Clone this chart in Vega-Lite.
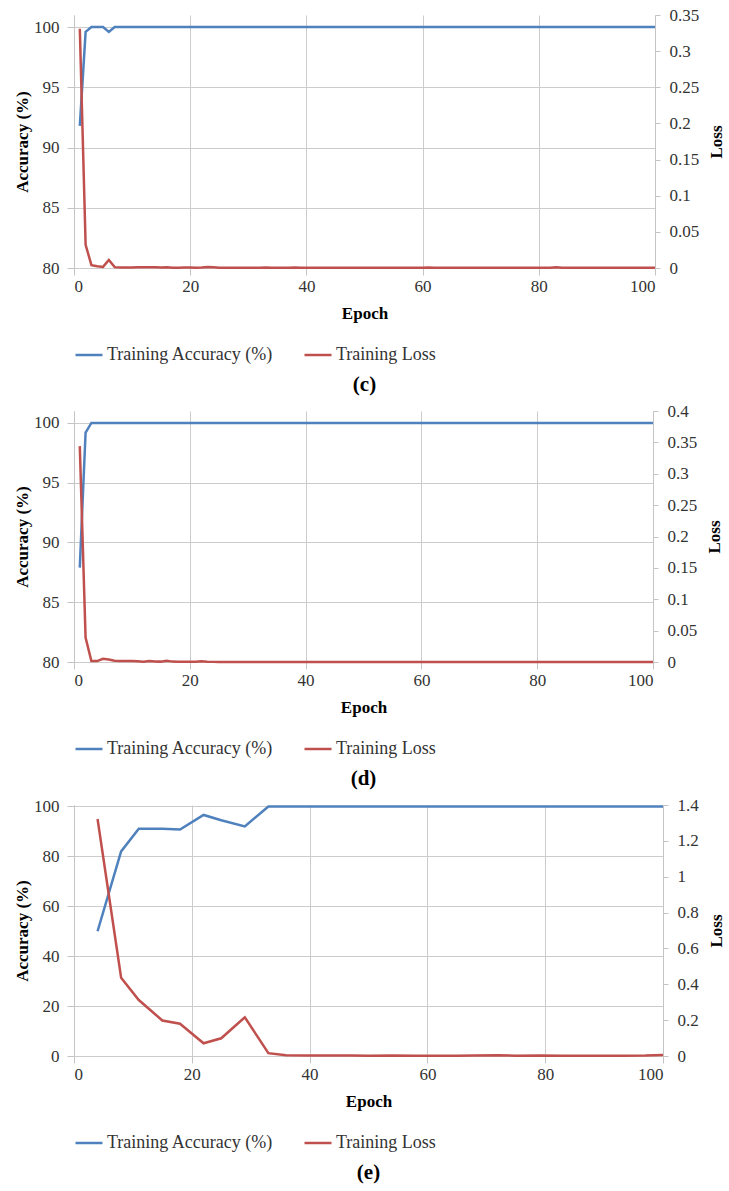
{
  "$schema": "https://vega.github.io/schema/vega-lite/v6.json",
  "padding": {"top": 6, "left": 13, "right": 0, "bottom": 5},
  "spacing": 7,
  "resolve": {"scale": {"color": "independent"}, "legend": {"color": "independent"}},
  "config": {
    "font": "Liberation Serif",
    "view": {"stroke": null},
    "axis": {
      "labelFont": "Liberation Serif",
      "labelFontSize": 17,
      "labelColor": "#333333",
      "titleFont": "Liberation Serif",
      "titleFontSize": 17,
      "titleFontWeight": "bold",
      "titleColor": "#000000",
      "gridColor": "#cccccc",
      "gridWidth": 1,
      "domainColor": "#c4c4c4",
      "tickColor": "#c4c4c4",
      "tickSize": 7
    },
    "legend": {
      "labelFont": "Liberation Serif",
      "labelFontSize": 18,
      "labelColor": "#333333",
      "labelLimit": 0,
      "symbolType": "stroke",
      "symbolStrokeWidth": 3,
      "symbolSize": 729,
      "labelOffset": 3,
      "columnPadding": 25,
      "offset": 19
    },
    "title": {"font": "Liberation Serif", "fontSize": 21, "fontWeight": "bold", "color": "#000000"},
    "line": {"strokeWidth": 2.5}
  },
  "datasets": {
    "c": [
      {"epoch": 1, "acc": 91.8, "loss": 0.331},
      {"epoch": 2, "acc": 99.6, "loss": 0.032},
      {"epoch": 3, "acc": 100, "loss": 0.004},
      {"epoch": 4, "acc": 100, "loss": 0.0025},
      {"epoch": 5, "acc": 100, "loss": 0.0015},
      {"epoch": 6, "acc": 99.6, "loss": 0.011},
      {"epoch": 7, "acc": 100, "loss": 0.0012},
      {"epoch": 8, "acc": 100, "loss": 0.0008},
      {"epoch": 9, "acc": 100, "loss": 0.0006},
      {"epoch": 10, "acc": 100, "loss": 0.0008},
      {"epoch": 11, "acc": 100, "loss": 0.001},
      {"epoch": 12, "acc": 100, "loss": 0.0012},
      {"epoch": 13, "acc": 100, "loss": 0.0012},
      {"epoch": 14, "acc": 100, "loss": 0.0012},
      {"epoch": 15, "acc": 100, "loss": 0.0006},
      {"epoch": 16, "acc": 100, "loss": 0.001},
      {"epoch": 17, "acc": 100, "loss": 0.0005},
      {"epoch": 18, "acc": 100, "loss": 0.0004},
      {"epoch": 19, "acc": 100, "loss": 0.0006},
      {"epoch": 20, "acc": 100, "loss": 0.0008},
      {"epoch": 21, "acc": 100, "loss": 0.0005},
      {"epoch": 22, "acc": 100, "loss": 0.0006},
      {"epoch": 23, "acc": 100, "loss": 0.0014},
      {"epoch": 24, "acc": 100, "loss": 0.001},
      {"epoch": 25, "acc": 100, "loss": 0.0004},
      {"epoch": 26, "acc": 100, "loss": 0.0003},
      {"epoch": 27, "acc": 100, "loss": 0.0003},
      {"epoch": 28, "acc": 100, "loss": 0.0002},
      {"epoch": 29, "acc": 100, "loss": 0.0003},
      {"epoch": 30, "acc": 100, "loss": 0.0003},
      {"epoch": 31, "acc": 100, "loss": 0.0002},
      {"epoch": 32, "acc": 100, "loss": 0.0004},
      {"epoch": 33, "acc": 100, "loss": 0.0008},
      {"epoch": 34, "acc": 100, "loss": 0.0003},
      {"epoch": 35, "acc": 100, "loss": 0.0002},
      {"epoch": 36, "acc": 100, "loss": 0.0003},
      {"epoch": 37, "acc": 100, "loss": 0.0004},
      {"epoch": 38, "acc": 100, "loss": 0.0007},
      {"epoch": 39, "acc": 100, "loss": 0.0003},
      {"epoch": 40, "acc": 100, "loss": 0.0002},
      {"epoch": 41, "acc": 100, "loss": 0.0002},
      {"epoch": 42, "acc": 100, "loss": 0.0003},
      {"epoch": 43, "acc": 100, "loss": 0.0002},
      {"epoch": 44, "acc": 100, "loss": 0.0002},
      {"epoch": 45, "acc": 100, "loss": 0.0003},
      {"epoch": 46, "acc": 100, "loss": 0.0002},
      {"epoch": 47, "acc": 100, "loss": 0.0002},
      {"epoch": 48, "acc": 100, "loss": 0.0002},
      {"epoch": 49, "acc": 100, "loss": 0.0003},
      {"epoch": 50, "acc": 100, "loss": 0.0002},
      {"epoch": 51, "acc": 100, "loss": 0.0002},
      {"epoch": 52, "acc": 100, "loss": 0.0002},
      {"epoch": 53, "acc": 100, "loss": 0.0002},
      {"epoch": 54, "acc": 100, "loss": 0.0003},
      {"epoch": 55, "acc": 100, "loss": 0.0002},
      {"epoch": 56, "acc": 100, "loss": 0.0002},
      {"epoch": 57, "acc": 100, "loss": 0.0002},
      {"epoch": 58, "acc": 100, "loss": 0.0002},
      {"epoch": 59, "acc": 100, "loss": 0.0002},
      {"epoch": 60, "acc": 100, "loss": 0.0003},
      {"epoch": 61, "acc": 100, "loss": 0.0006},
      {"epoch": 62, "acc": 100, "loss": 0.0003},
      {"epoch": 63, "acc": 100, "loss": 0.0002},
      {"epoch": 64, "acc": 100, "loss": 0.0002},
      {"epoch": 65, "acc": 100, "loss": 0.0002},
      {"epoch": 66, "acc": 100, "loss": 0.0002},
      {"epoch": 67, "acc": 100, "loss": 0.0002},
      {"epoch": 68, "acc": 100, "loss": 0.0002},
      {"epoch": 69, "acc": 100, "loss": 0.0002},
      {"epoch": 70, "acc": 100, "loss": 0.0002},
      {"epoch": 71, "acc": 100, "loss": 0.0002},
      {"epoch": 72, "acc": 100, "loss": 0.0002},
      {"epoch": 73, "acc": 100, "loss": 0.0002},
      {"epoch": 74, "acc": 100, "loss": 0.0002},
      {"epoch": 75, "acc": 100, "loss": 0.0002},
      {"epoch": 76, "acc": 100, "loss": 0.0002},
      {"epoch": 77, "acc": 100, "loss": 0.0002},
      {"epoch": 78, "acc": 100, "loss": 0.0002},
      {"epoch": 79, "acc": 100, "loss": 0.0002},
      {"epoch": 80, "acc": 100, "loss": 0.0002},
      {"epoch": 81, "acc": 100, "loss": 0.0002},
      {"epoch": 82, "acc": 100, "loss": 0.0004},
      {"epoch": 83, "acc": 100, "loss": 0.0012},
      {"epoch": 84, "acc": 100, "loss": 0.0004},
      {"epoch": 85, "acc": 100, "loss": 0.0002},
      {"epoch": 86, "acc": 100, "loss": 0.0002},
      {"epoch": 87, "acc": 100, "loss": 0.0002},
      {"epoch": 88, "acc": 100, "loss": 0.0002},
      {"epoch": 89, "acc": 100, "loss": 0.0002},
      {"epoch": 90, "acc": 100, "loss": 0.0002},
      {"epoch": 91, "acc": 100, "loss": 0.0002},
      {"epoch": 92, "acc": 100, "loss": 0.0002},
      {"epoch": 93, "acc": 100, "loss": 0.0002},
      {"epoch": 94, "acc": 100, "loss": 0.0002},
      {"epoch": 95, "acc": 100, "loss": 0.0002},
      {"epoch": 96, "acc": 100, "loss": 0.0002},
      {"epoch": 97, "acc": 100, "loss": 0.0002},
      {"epoch": 98, "acc": 100, "loss": 0.0002},
      {"epoch": 99, "acc": 100, "loss": 0.0002},
      {"epoch": 100, "acc": 100, "loss": 0.0002}
    ],
    "d": [
      {"epoch": 1, "acc": 87.9, "loss": 0.344},
      {"epoch": 2, "acc": 99.2, "loss": 0.039},
      {"epoch": 3, "acc": 100, "loss": 0.0016},
      {"epoch": 4, "acc": 100, "loss": 0.0015},
      {"epoch": 5, "acc": 100, "loss": 0.005},
      {"epoch": 6, "acc": 100, "loss": 0.004},
      {"epoch": 7, "acc": 100, "loss": 0.002},
      {"epoch": 8, "acc": 100, "loss": 0.0015},
      {"epoch": 9, "acc": 100, "loss": 0.0015},
      {"epoch": 10, "acc": 100, "loss": 0.0015},
      {"epoch": 11, "acc": 100, "loss": 0.001},
      {"epoch": 12, "acc": 100, "loss": 0.0005},
      {"epoch": 13, "acc": 100, "loss": 0.0015},
      {"epoch": 14, "acc": 100, "loss": 0.0008},
      {"epoch": 15, "acc": 100, "loss": 0.0006},
      {"epoch": 16, "acc": 100, "loss": 0.002},
      {"epoch": 17, "acc": 100, "loss": 0.0006},
      {"epoch": 18, "acc": 100, "loss": 0.0003},
      {"epoch": 19, "acc": 100, "loss": 0.0003},
      {"epoch": 20, "acc": 100, "loss": 0.0003},
      {"epoch": 21, "acc": 100, "loss": 0.0004},
      {"epoch": 22, "acc": 100, "loss": 0.001},
      {"epoch": 23, "acc": 100, "loss": 0.0003},
      {"epoch": 24, "acc": 100, "loss": 0.0002},
      {"epoch": 25, "acc": 100, "loss": 0.0002},
      {"epoch": 26, "acc": 100, "loss": 0.0002},
      {"epoch": 27, "acc": 100, "loss": 0.0002},
      {"epoch": 28, "acc": 100, "loss": 0.0002},
      {"epoch": 29, "acc": 100, "loss": 0.0002},
      {"epoch": 30, "acc": 100, "loss": 0.0002},
      {"epoch": 31, "acc": 100, "loss": 0.0002},
      {"epoch": 32, "acc": 100, "loss": 0.0002},
      {"epoch": 33, "acc": 100, "loss": 0.0002},
      {"epoch": 34, "acc": 100, "loss": 0.0002},
      {"epoch": 35, "acc": 100, "loss": 0.0002},
      {"epoch": 36, "acc": 100, "loss": 0.0002},
      {"epoch": 37, "acc": 100, "loss": 0.0002},
      {"epoch": 38, "acc": 100, "loss": 0.0002},
      {"epoch": 39, "acc": 100, "loss": 0.0002},
      {"epoch": 40, "acc": 100, "loss": 0.0002},
      {"epoch": 41, "acc": 100, "loss": 0.0002},
      {"epoch": 42, "acc": 100, "loss": 0.0002},
      {"epoch": 43, "acc": 100, "loss": 0.0002},
      {"epoch": 44, "acc": 100, "loss": 0.0002},
      {"epoch": 45, "acc": 100, "loss": 0.0002},
      {"epoch": 46, "acc": 100, "loss": 0.0002},
      {"epoch": 47, "acc": 100, "loss": 0.0002},
      {"epoch": 48, "acc": 100, "loss": 0.0002},
      {"epoch": 49, "acc": 100, "loss": 0.0002},
      {"epoch": 50, "acc": 100, "loss": 0.0002},
      {"epoch": 51, "acc": 100, "loss": 0.0002},
      {"epoch": 52, "acc": 100, "loss": 0.0002},
      {"epoch": 53, "acc": 100, "loss": 0.0002},
      {"epoch": 54, "acc": 100, "loss": 0.0002},
      {"epoch": 55, "acc": 100, "loss": 0.0002},
      {"epoch": 56, "acc": 100, "loss": 0.0002},
      {"epoch": 57, "acc": 100, "loss": 0.0002},
      {"epoch": 58, "acc": 100, "loss": 0.0002},
      {"epoch": 59, "acc": 100, "loss": 0.0002},
      {"epoch": 60, "acc": 100, "loss": 0.0002},
      {"epoch": 61, "acc": 100, "loss": 0.0002},
      {"epoch": 62, "acc": 100, "loss": 0.0002},
      {"epoch": 63, "acc": 100, "loss": 0.0002},
      {"epoch": 64, "acc": 100, "loss": 0.0002},
      {"epoch": 65, "acc": 100, "loss": 0.0002},
      {"epoch": 66, "acc": 100, "loss": 0.0002},
      {"epoch": 67, "acc": 100, "loss": 0.0002},
      {"epoch": 68, "acc": 100, "loss": 0.0002},
      {"epoch": 69, "acc": 100, "loss": 0.0002},
      {"epoch": 70, "acc": 100, "loss": 0.0002},
      {"epoch": 71, "acc": 100, "loss": 0.0002},
      {"epoch": 72, "acc": 100, "loss": 0.0002},
      {"epoch": 73, "acc": 100, "loss": 0.0002},
      {"epoch": 74, "acc": 100, "loss": 0.0002},
      {"epoch": 75, "acc": 100, "loss": 0.0002},
      {"epoch": 76, "acc": 100, "loss": 0.0002},
      {"epoch": 77, "acc": 100, "loss": 0.0002},
      {"epoch": 78, "acc": 100, "loss": 0.0002},
      {"epoch": 79, "acc": 100, "loss": 0.0002},
      {"epoch": 80, "acc": 100, "loss": 0.0002},
      {"epoch": 81, "acc": 100, "loss": 0.0002},
      {"epoch": 82, "acc": 100, "loss": 0.0002},
      {"epoch": 83, "acc": 100, "loss": 0.0002},
      {"epoch": 84, "acc": 100, "loss": 0.0002},
      {"epoch": 85, "acc": 100, "loss": 0.0002},
      {"epoch": 86, "acc": 100, "loss": 0.0002},
      {"epoch": 87, "acc": 100, "loss": 0.0002},
      {"epoch": 88, "acc": 100, "loss": 0.0002},
      {"epoch": 89, "acc": 100, "loss": 0.0002},
      {"epoch": 90, "acc": 100, "loss": 0.0002},
      {"epoch": 91, "acc": 100, "loss": 0.0002},
      {"epoch": 92, "acc": 100, "loss": 0.0002},
      {"epoch": 93, "acc": 100, "loss": 0.0002},
      {"epoch": 94, "acc": 100, "loss": 0.0002},
      {"epoch": 95, "acc": 100, "loss": 0.0002},
      {"epoch": 96, "acc": 100, "loss": 0.0002},
      {"epoch": 97, "acc": 100, "loss": 0.0002},
      {"epoch": 98, "acc": 100, "loss": 0.0002},
      {"epoch": 99, "acc": 100, "loss": 0.0002},
      {"epoch": 100, "acc": 100, "loss": 0.0002}
    ],
    "e": [
      {"epoch": 4, "acc": 50, "loss": 1.322},
      {"epoch": 8, "acc": 82, "loss": 0.437},
      {"epoch": 11, "acc": 91.1, "loss": 0.312},
      {"epoch": 15, "acc": 91.1, "loss": 0.198},
      {"epoch": 18, "acc": 90.8, "loss": 0.18},
      {"epoch": 22, "acc": 96.6, "loss": 0.071},
      {"epoch": 25, "acc": 94.5, "loss": 0.099},
      {"epoch": 29, "acc": 92, "loss": 0.216},
      {"epoch": 33, "acc": 100, "loss": 0.016},
      {"epoch": 36, "acc": 100, "loss": 0.004},
      {"epoch": 40, "acc": 100, "loss": 0.003},
      {"epoch": 43, "acc": 100, "loss": 0.003},
      {"epoch": 47, "acc": 100, "loss": 0.003},
      {"epoch": 50, "acc": 100, "loss": 0.001},
      {"epoch": 54, "acc": 100, "loss": 0.003},
      {"epoch": 58, "acc": 100, "loss": 0.001},
      {"epoch": 61, "acc": 100, "loss": 0.002},
      {"epoch": 65, "acc": 100, "loss": 0.001},
      {"epoch": 68, "acc": 100, "loss": 0.003},
      {"epoch": 72, "acc": 100, "loss": 0.004},
      {"epoch": 75, "acc": 100, "loss": 0.002},
      {"epoch": 79, "acc": 100, "loss": 0.003},
      {"epoch": 83, "acc": 100, "loss": 0.001},
      {"epoch": 86, "acc": 100, "loss": 0.001},
      {"epoch": 90, "acc": 100, "loss": 0.001},
      {"epoch": 93, "acc": 100, "loss": 0.002},
      {"epoch": 97, "acc": 100, "loss": 0.003},
      {"epoch": 100, "acc": 100, "loss": 0.006}
    ]
  },
  "vconcat": [
    {
      "data": {"name": "c"},
      "width": 581,
      "height": 253,
      "title": {"text": "(c)", "orient": "bottom", "anchor": "middle", "offset": 10},
      "layer": [
        {
          "mark": {"type": "line"},
          "encoding": {
            "x": {"field": "epoch", "type": "quantitative", "scale": {"domain": [0, 100], "nice": false},
              "axis": {"values": [0, 20, 40, 60, 80, 100], "title": "Epoch", "grid": true, "labelFont": "Liberation Serif", "labelPadding": 3, "titlePadding": 11, "domain": false}},
            "y": {"field": "acc", "type": "quantitative", "scale": {"domain": [80, 101], "nice": false, "zero": false},
              "axis": {"values": [80, 85, 90, 95, 100], "title": "Accuracy (%)", "grid": true, "labelFont": "Liberation Serif", "labelPadding": 8, "titlePadding": 2}},
            "color": {"datum": "Training Accuracy (%)", "type": "nominal",
              "scale": {"domain": ["Training Accuracy (%)", "Training Loss"], "range": ["#4F81BD", "#C0504D"]},
              "legend": {"title": null, "orient": "bottom", "direction": "horizontal"}}
          }
        },
        {
          "mark": {"type": "line"},
          "encoding": {
            "x": {"field": "epoch", "type": "quantitative"},
            "y": {"field": "loss", "type": "quantitative", "scale": {"domain": [0, 0.35], "nice": false},
              "axis": {"orient": "right", "values": [0, 0.05, 0.1, 0.15, 0.2, 0.25, 0.3, 0.35], "format": "~g", "title": "Loss", "titleAngle": 270, "titleBaseline": "top", "grid": false, "tickSize": 5, "labelFont": "Liberation Serif", "labelPadding": 9, "titlePadding": 10}},
            "color": {"datum": "Training Loss", "type": "nominal"}
          }
        }
      ],
      "resolve": {"scale": {"y": "independent"}}
    },
    {
      "data": {"name": "d"},
      "width": 579,
      "height": 251,
      "title": {"text": "(d)", "orient": "bottom", "anchor": "middle", "offset": 10},
      "layer": [
        {
          "mark": {"type": "line"},
          "encoding": {
            "x": {"field": "epoch", "type": "quantitative", "scale": {"domain": [0, 100], "nice": false},
              "axis": {"values": [0, 20, 40, 60, 80, 100], "title": "Epoch", "grid": true, "labelFont": "Liberation Serif", "labelPadding": 3, "titlePadding": 11, "domain": false}},
            "y": {"field": "acc", "type": "quantitative", "scale": {"domain": [80, 101], "nice": false, "zero": false},
              "axis": {"values": [80, 85, 90, 95, 100], "title": "Accuracy (%)", "grid": true, "labelFont": "Liberation Serif", "labelPadding": 8, "titlePadding": 2}},
            "color": {"datum": "Training Accuracy (%)", "type": "nominal",
              "scale": {"domain": ["Training Accuracy (%)", "Training Loss"], "range": ["#4F81BD", "#C0504D"]},
              "legend": {"title": null, "orient": "bottom", "direction": "horizontal"}}
          }
        },
        {
          "mark": {"type": "line"},
          "encoding": {
            "x": {"field": "epoch", "type": "quantitative"},
            "y": {"field": "loss", "type": "quantitative", "scale": {"domain": [0, 0.4], "nice": false},
              "axis": {"orient": "right", "values": [0, 0.05, 0.1, 0.15, 0.2, 0.25, 0.3, 0.35, 0.4], "format": "~g", "title": "Loss", "titleAngle": 270, "titleBaseline": "top", "grid": false, "tickSize": 5, "labelFont": "Liberation Serif", "labelPadding": 9, "titlePadding": 10}},
            "color": {"datum": "Training Loss", "type": "nominal"}
          }
        }
      ],
      "resolve": {"scale": {"y": "independent"}}
    },
    {
      "data": {"name": "e"},
      "width": 589,
      "height": 251,
      "title": {"text": "(e)", "orient": "bottom", "anchor": "middle", "offset": 10},
      "layer": [
        {
          "mark": {"type": "line"},
          "encoding": {
            "x": {"field": "epoch", "type": "quantitative", "scale": {"domain": [0, 100], "nice": false},
              "axis": {"values": [0, 20, 40, 60, 80, 100], "title": "Epoch", "grid": true, "labelFont": "Liberation Serif", "labelPadding": 3, "titlePadding": 11, "domain": false}},
            "y": {"field": "acc", "type": "quantitative", "scale": {"domain": [0, 100.6], "nice": false},
              "axis": {"values": [0, 20, 40, 60, 80, 100], "title": "Accuracy (%)", "grid": true, "labelFont": "Liberation Serif", "labelPadding": 8, "titlePadding": 2}},
            "color": {"datum": "Training Accuracy (%)", "type": "nominal",
              "scale": {"domain": ["Training Accuracy (%)", "Training Loss"], "range": ["#4F81BD", "#C0504D"]},
              "legend": {"title": null, "orient": "bottom", "direction": "horizontal"}}
          }
        },
        {
          "mark": {"type": "line"},
          "encoding": {
            "x": {"field": "epoch", "type": "quantitative"},
            "y": {"field": "loss", "type": "quantitative", "scale": {"domain": [0, 1.4], "nice": false},
              "axis": {"orient": "right", "values": [0, 0.2, 0.4, 0.6, 0.8, 1, 1.2, 1.4], "format": "~g", "title": "Loss", "titleAngle": 270, "titleBaseline": "top", "grid": false, "tickSize": 5, "labelFont": "Liberation Serif", "labelPadding": 9, "titlePadding": 10}},
            "color": {"datum": "Training Loss", "type": "nominal"}
          }
        }
      ],
      "resolve": {"scale": {"y": "independent"}}
    }
  ]
}
